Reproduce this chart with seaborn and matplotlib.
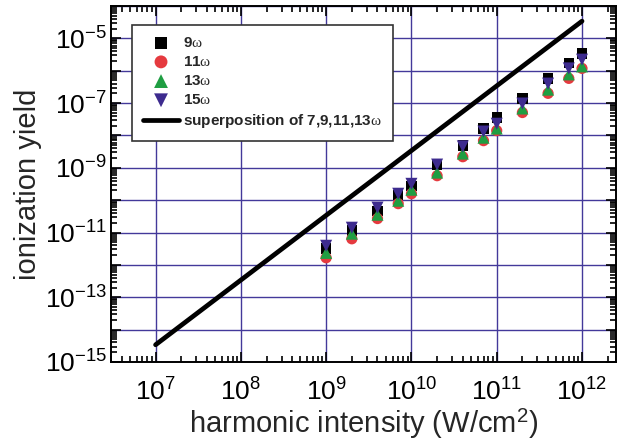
import numpy as np
import pandas as pd
import seaborn as sns
import matplotlib
matplotlib.use('Agg')
import matplotlib.pyplot as plt
from matplotlib.ticker import LogLocator, FuncFormatter, NullFormatter

# harmonic intensity (W/cm^2) of the measured points
intensity = [1e9, 2e9, 4e9, 7e9, 1e10, 2e10, 4e10, 7e10, 1e11, 2e11, 4e11, 7e11, 1e12]

# ionization yield per harmonic
yield_9 = [3.2e-12, 1.15e-11, 4.7e-11, 1.48e-10, 2.8e-10, 1.26e-9, 4.9e-9, 1.63e-8,
           3.6e-8, 1.38e-7, 5.8e-7, 1.7e-6, 3.4e-6]
yield_11 = [1.66e-12, 6.4e-12, 2.7e-11, 7.8e-11, 1.58e-10, 5.7e-10, 2.2e-9, 6.9e-9,
            1.41e-8, 5.1e-8, 2.0e-7, 5.8e-7, 1.18e-6]
yield_13 = [2.35e-12, 9.2e-12, 3.55e-11, 9.6e-11, 2.1e-10, 7.1e-10, 2.75e-9, 8.5e-9,
            1.63e-8, 6.8e-8, 2.6e-7, 7.7e-7, 1.36e-6]
yield_15 = [3.9e-12, 1.41e-11, 5.9e-11, 1.58e-10, 3.2e-10, 1.26e-9, 4.6e-9, 1.32e-8,
            2.3e-8, 9.7e-8, 4.0e-7, 1.18e-6, 2.2e-6]

# superposition of 7,9,11,13 harmonics
line_x = [1e7, 1e8, 1e9, 1e10, 1e11, 1e12]
line_y = [3.4e-15, 3.4e-13, 3.4e-11, 3.4e-9, 3.4e-7, 3.4e-5]

sns.set_style('ticks')
plt.rcParams['font.family'] = ['Liberation Sans', 'DejaVu Sans']
plt.rcParams['mathtext.fontset'] = 'custom'
plt.rcParams['mathtext.rm'] = 'Liberation Serif'
plt.rcParams['mathtext.it'] = 'Liberation Serif:italic'
plt.rcParams['mathtext.bf'] = 'Liberation Sans:bold'

fig = plt.figure(figsize=(6.32, 4.47), dpi=100)
ax = fig.add_axes([0.1756, 0.1902, 0.799, 0.7964])
ax.set_xscale('log')
ax.set_yscale('log')

w = r'$\mathrm{\omega}$'
series = [
    ('9' + w, yield_9, 's', 'black', 55),
    ('11' + w, yield_11, 'o', '#e53a3f', 65),
    ('13' + w, yield_13, '^', '#1f9e42', 75),
    ('15' + w, yield_15, 'v', '#3d2b8e', 75),
]
for label, ys, mk, col, size in series:
    sns.scatterplot(x=intensity, y=ys, marker=mk, color=col, s=size,
                    edgecolor='none', label=label, ax=ax, zorder=3)

sns.lineplot(x=line_x, y=line_y, color='black', lw=3.4,
             label='superposition of 7,9,11,13' + w, ax=ax, zorder=4)

ax.set_xlim(3e6, 2.5e12)
ax.set_ylim(1e-15, 1e-4)

grid_col = '#43399a'
ax.set_axisbelow(True)
ax.grid(which='major', color=grid_col, lw=1.0)
ax.grid(which='minor', visible=False)

ax.xaxis.set_major_locator(LogLocator(base=10, numticks=20))
ax.xaxis.set_minor_locator(LogLocator(base=10, subs=np.arange(2, 10), numticks=20))
ax.yaxis.set_major_locator(LogLocator(base=10, numticks=20))
ax.yaxis.set_minor_locator(LogLocator(base=10, subs=np.arange(2, 10), numticks=20))


def xfmt(v, pos):
    return r'$\mathdefault{10^{%d}}$' % round(np.log10(v))


def yfmt(v, pos):
    e = round(np.log10(v))
    if e % 2 == 0:
        return ''
    return r'$\mathdefault{10^{%d}}$' % e


ax.xaxis.set_major_formatter(FuncFormatter(xfmt))
ax.yaxis.set_major_formatter(FuncFormatter(yfmt))
ax.xaxis.set_minor_formatter(NullFormatter())
ax.yaxis.set_minor_formatter(NullFormatter())

ax.tick_params(which='both', direction='in', top=True, right=True, width=1.2,
               labelsize=19, colors='black')
ax.tick_params(which='major', length=7)
ax.tick_params(axis='x', which='major', pad=12)
ax.tick_params(axis='y', which='major', pad=3)
ax.tick_params(which='minor', length=4)
for sp in ax.spines.values():
    sp.set_linewidth(1.4)
    sp.set_color('black')

ax.set_xlabel(r'harmonic intensity (W/cm$^\mathdefault{2}$)', fontsize=21, labelpad=1)
ax.set_ylabel('ionization yield', fontsize=21, labelpad=2)

leg = ax.legend(loc='upper left', bbox_to_anchor=(0.0416, 0.9466), borderaxespad=0,
                prop={'weight': 'bold', 'size': 11}, fancybox=False, framealpha=1,
                edgecolor='#333333', handlelength=2.4, handletextpad=0.25,
                labelspacing=0.34, borderpad=0.7, markerscale=1.15)
leg.get_frame().set_linewidth(1.2)

fig.savefig('out.png', dpi=100)
